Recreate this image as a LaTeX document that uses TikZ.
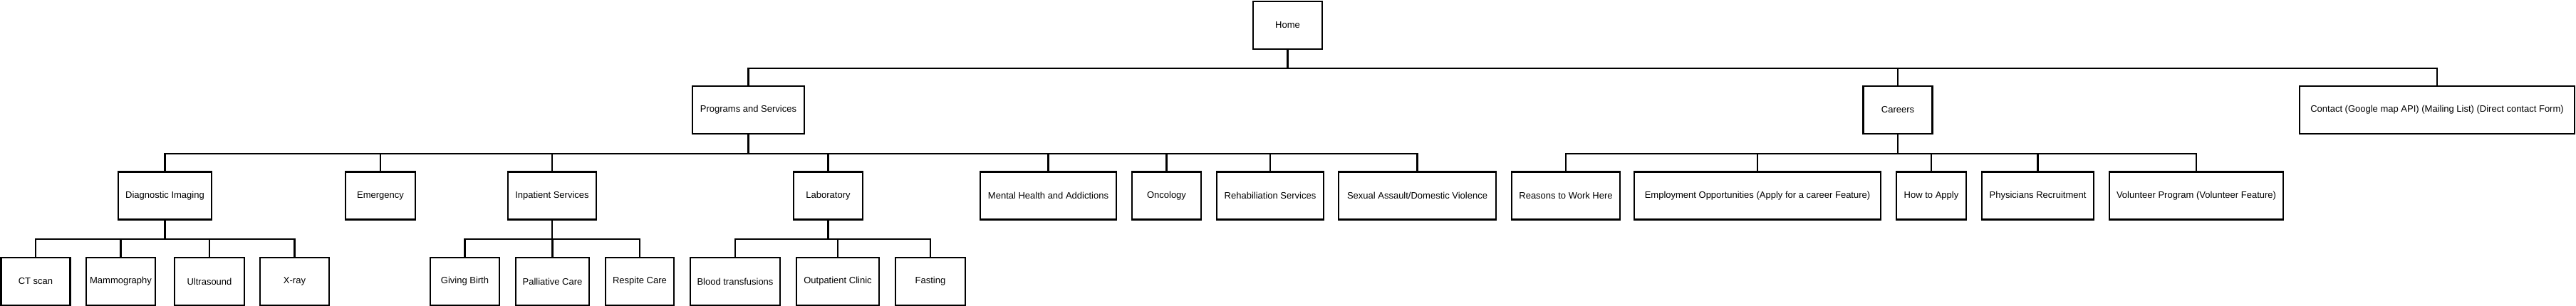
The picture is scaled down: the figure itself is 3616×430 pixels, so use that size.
\documentclass[tikz,border=0pt]{standalone}
\usepackage{fontspec}
\setmainfont{Liberation Sans}
\usetikzlibrary{positioning, calc}

\begin{document}
\begin{tikzpicture}[
    x=1pt, y=-1pt,
    % Page Box Style
    page/.style={draw=black, rectangle, fill=white, line width=2.6pt, minimum height=67pt, minimum width=97pt, inner sep=0pt, align=center, font=\fontsize{13}{15}\selectfont},
    % Tree Link Style
    link/.style={draw=black, line width=2.2pt}
]

\useasboundingbox (0,0) rectangle (3616,430);

% ================= Nodes =================

% 1. Root
\node[page] (home) at (1807.5,35.5) {Home};

% 2. Main Sections
\node[page, minimum width=157pt] (prog) at (1050.5,154.5) {Programs and Services};
\node[page] (careers) at (2664,154.5) {Careers};
\node[page, minimum width=386pt] (contact) at (3421,154.5) {Contact (Google map API) (Mailing List) (Direct contact Form)};

% 3. Programs and Services pages
\node[page, minimum width=131pt] (diag) at (231.5,275) {Diagnostic Imaging};
\node[page, minimum width=98pt] (emerg) at (534,275) {Emergency};
\node[page, minimum width=124pt] (inpat) at (775,275) {Inpatient Services};
\node[page] (lab) at (1162.5,275) {Laboratory};
\node[page, minimum width=191pt] (mental) at (1471.5,275) {Mental Health and Addictions};
\node[page] (onco) at (1637.5,275) {Oncology};
\node[page, minimum width=150pt] (rehab) at (1783,275) {Rehabiliation Services};
\node[page, minimum width=221pt] (sexual) at (1989.5,275) {Sexual Assault/Domestic Violence};

% 4. Careers pages
\node[page, minimum width=152pt] (reasons) at (2198,275) {Reasons to Work Here};
\node[page, minimum width=346pt] (employ) at (2467,275) {Employment Opportunities (Apply for a career Feature)};
\node[page, minimum width=98pt] (howto) at (2711,275) {How to Apply};
\node[page, minimum width=157pt] (physic) at (2860.5,275) {Physicians Recruitment};
\node[page, minimum width=244pt] (volunt) at (3083,275) {Volunteer Program (Volunteer Feature)};

% 5. Sub pages
\node[page] (ct) at (50,395.5) {CT scan};
\node[page] (mammo) at (169.5,395.5) {Mammography};
\node[page, minimum width=98pt] (ultra) at (294,395.5) {Ultrasound};
\node[page] (xray) at (413.5,395.5) {X-ray};
\node[page] (birth) at (652.5,395.5) {Giving Birth};
\node[page, minimum width=103pt] (pallia) at (775.5,395.5) {Palliative Care};
\node[page, minimum width=96pt] (respite) at (898,395.5) {Respite Care};
\node[page, minimum width=126pt] (blood) at (1032,395.5) {Blood transfusions};
\node[page, minimum width=116pt] (outpat) at (1176,395.5) {Outpatient Clinic};
\node[page, minimum width=98pt] (fasting) at (1306,395.5) {Fasting};

% ================= Connections =================

% Root to main sections
\foreach \kid in {prog, careers, contact}
    \draw[link] (home.south) -- ++(0,26) -| (\kid.north);

% Programs and Services
\foreach \kid in {diag, emerg, inpat, lab, mental, onco, rehab, sexual}
    \draw[link] (prog.south) -- ++(0,26.5) -| (\kid.north);

% Careers
\foreach \kid in {reasons, employ, howto, physic, volunt}
    \draw[link] (careers.south) -- ++(0,26.5) -| (\kid.north);

% Sub pages
\foreach \kid in {ct, mammo, ultra, xray}
    \draw[link] (diag.south) -- ++(0,26.5) -| (\kid.north);
\foreach \kid in {birth, pallia, respite}
    \draw[link] (inpat.south) -- ++(0,26.5) -| (\kid.north);
\foreach \kid in {blood, outpat, fasting}
    \draw[link] (lab.south) -- ++(0,26.5) -| (\kid.north);

\end{tikzpicture}
\end{document}
